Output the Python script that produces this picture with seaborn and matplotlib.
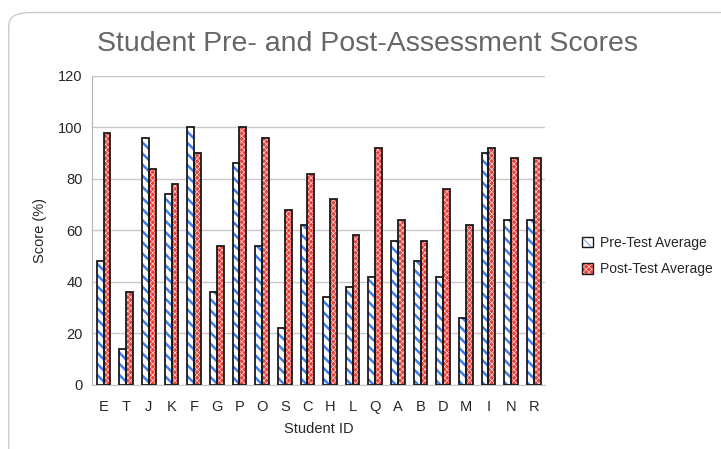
import pandas as pd
import seaborn as sns
import matplotlib.pyplot as plt
from matplotlib.patches import Rectangle, FancyBboxPatch

students = ['E', 'T', 'J', 'K', 'F', 'G', 'P', 'O', 'S', 'C',
            'H', 'L', 'Q', 'A', 'B', 'D', 'M', 'I', 'N', 'R']
pre_test = [48, 14, 96, 74, 100, 36, 86, 54, 22, 62,
            34, 38, 42, 56, 48, 42, 26, 90, 64, 64]
post_test = [98, 36, 84, 78, 90, 54, 100, 96, 68, 82,
             72, 58, 92, 64, 56, 76, 62, 92, 88, 88]
series = ['Pre-Test Average', 'Post-Test Average']

df = pd.DataFrame({'Student ID': students * 2,
                   'Score': pre_test + post_test,
                   'Test': [series[0]] * len(students) + [series[1]] * len(students)})

sns.set_style('white')
plt.rcParams['font.family'] = ['Liberation Sans', 'DejaVu Sans']

fig = plt.figure(figsize=(7.21, 4.49), dpi=100)
ax = fig.add_axes([0.128, 0.143, 0.628, 0.688])

# outer rounded frame
frame = FancyBboxPatch((0.012, -0.05), 1.2, 1.022, boxstyle='round,pad=0,rounding_size=0.03',
                       transform=fig.transFigure, facecolor='none',
                       edgecolor='#c8ccd2', linewidth=1.0, zorder=-5)
fig.patches.append(frame)

# face colour, hatch colour, hatch pattern, hatch line width
styles = {series[0]: ('white', '#3d7df0', '\\\\\\', 1.8),
          series[1]: ('#e8403a', '#ffd6d3', 'xxxxxx', 0.5)}

sns.barplot(data=df, x='Student ID', y='Score', hue='Test', hue_order=series,
            palette={s: styles[s][0] for s in series}, width=0.6, gap=0,
            ax=ax, legend=False)

def style_patch(p, s):
    face, hcolor, hatch, hlw = styles[s]
    p.set_facecolor(face)
    p.set_edgecolor(hcolor)
    p.set_linewidth(0)
    p.set_hatch(hatch)
    if hasattr(p, 'set_hatch_linewidth'):
        p.set_hatch_linewidth(hlw)
    p.set_zorder(3)

for cont, s in zip(ax.containers, series):
    plt.rcParams['hatch.linewidth'] = styles[s][3]
    for p in cont.patches:
        style_patch(p, s)
        ax.add_patch(Rectangle(p.get_xy(), p.get_width(), p.get_height(),
                               facecolor='none', edgecolor='#1a1a1a', linewidth=1.3,
                               zorder=3.5))

ax.set_ylim(0, 120)
ax.set_yticks(range(0, 121, 20))
ax.yaxis.grid(True, color='#c8c8c8', linewidth=1)
ax.set_axisbelow(True)
for side in ['top', 'right']:
    ax.spines[side].set_visible(False)
ax.spines['left'].set_color('#b4b4b4')
ax.spines['bottom'].set_color('#c8c8c8')
ax.tick_params(axis='both', labelsize=10.5, colors='#262626', length=0)
ax.tick_params(axis='x', pad=11)
ax.tick_params(axis='y', pad=7)
ax.set_xlabel('Student ID', fontsize=10.5, color='#262626', labelpad=6)
ax.set_ylabel('Score (%)', fontsize=10.5, color='#262626', labelpad=8)
ax.set_xlim(-0.5, len(students) - 0.5)

fig.suptitle('Student Pre- and Post-Assessment Scores', x=0.51, y=0.932,
             fontsize=20.5, color='#666666')

handles = []
for s in series:
    face, hcolor, hatch, hlw = styles[s]
    plt.rcParams['hatch.linewidth'] = hlw
    hp = Rectangle((0, 0), 1, 1, facecolor=face, edgecolor=hcolor, hatch=hatch, linewidth=0)
    op = Rectangle((0, 0), 1, 1, facecolor='none', edgecolor='#1a1a1a', linewidth=1.0)
    handles.append((hp, op))
leg = fig.legend(handles, series, loc='center left', bbox_to_anchor=(0.79, 0.43),
                 frameon=False, fontsize=10, handlelength=0.8, handleheight=0.8,
                 handletextpad=0.5, labelspacing=0.9)

fig.savefig('out.png', dpi=100)
